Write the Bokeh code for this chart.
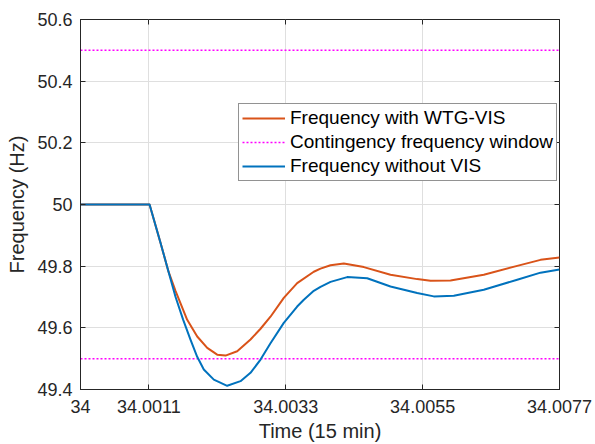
from bokeh.plotting import figure
from bokeh.models import (Range1d, FixedTicker, NumeralTickFormatter, LinearAxis,
                          Legend, LegendItem, CustomLabelingPolicy)
from bokeh.embed import file_html
from bokeh.resources import INLINE

# ---- data ----
x_ticks = [34.0, 34.0011, 34.0033, 34.0055, 34.0077]
y_ticks = [49.4, 49.6, 49.8, 50.0, 50.2, 50.4, 50.6]

t_vis = [34.0, 34.00111, 34.001286, 34.001415, 34.001527, 34.001715, 34.001876,
         34.002037, 34.002197, 34.002331, 34.002519, 34.002733, 34.002894,
         34.003054, 34.003268, 34.003483, 34.00375, 34.003858, 34.004019,
         34.004233, 34.004555, 34.004983, 34.005412, 34.005626, 34.005948,
         34.006483, 34.00702, 34.007395, 34.0077]
f_vis = [50.0, 50.0, 49.876, 49.782, 49.720, 49.626, 49.572,
         49.535, 49.513, 49.510, 49.524, 49.562, 49.597,
         49.636, 49.697, 49.745, 49.782, 49.792, 49.803,
         49.809, 49.797, 49.772, 49.758, 49.753, 49.7535,
         49.772, 49.801, 49.8205, 49.828]

t_novis = [34.0, 34.00111, 34.001286, 34.001415, 34.001527, 34.001651, 34.001768,
           34.001876, 34.001982, 34.002143, 34.002358, 34.002572, 34.002733,
           34.002894, 34.003054, 34.003268, 34.003483, 34.00359, 34.00375,
           34.003858, 34.004019, 34.004287, 34.004609, 34.004983, 34.005412,
           34.005679, 34.006001, 34.006483, 34.00702, 34.007395, 34.0077]
f_novis = [50.0, 50.0, 49.876, 49.782, 49.701, 49.626, 49.562,
           49.506, 49.465, 49.432, 49.412, 49.427, 49.454,
           49.497, 49.550, 49.616, 49.669, 49.691, 49.720,
           49.733, 49.749, 49.7645, 49.761, 49.734, 49.713,
           49.702, 49.704, 49.7235, 49.756, 49.779, 49.789]

window_levels = [50.5, 49.5]
x_range = [34.0, 34.0077]
y_range = [49.4, 50.6]

FONT = "Liberation Sans"
TXT = "#262626"

p = figure(width=595, height=444, output_backend="svg", toolbar_location=None,
           x_range=Range1d(*x_range), y_range=Range1d(*y_range),
           min_border_left=80, min_border_right=36, min_border_top=19,
           min_border_bottom=54, background_fill_color="white",
           border_fill_color="white")

p.outline_line_color = TXT
p.outline_line_width = 1
p.outline_line_alpha = 1

for ax in (p.xaxis[0], p.yaxis[0]):
    ax.major_tick_in = 5
    ax.major_tick_out = 0
    ax.minor_tick_in = 0
    ax.minor_tick_out = 0
    ax.axis_line_color = TXT
    ax.major_tick_line_color = TXT
    ax.major_label_text_font = FONT
    ax.major_label_text_font_size = "18px"
    ax.major_label_text_color = TXT
    ax.axis_label_text_font = FONT
    ax.axis_label_text_font_size = "20px"
    ax.axis_label_text_font_style = "normal"
    ax.axis_label_text_color = TXT

p.xaxis[0].ticker = FixedTicker(ticks=x_ticks)
p.yaxis[0].ticker = FixedTicker(ticks=y_ticks)
p.xaxis[0].formatter = NumeralTickFormatter(format="0.[0000]")
p.yaxis[0].formatter = NumeralTickFormatter(format="0.[0]")
p.xaxis[0].axis_label = "Time (15 min)"
p.yaxis[0].axis_label = "Frequency (Hz)"
p.xaxis[0].major_label_standoff = 10
p.xaxis[0].axis_label_standoff = 4
p.yaxis[0].major_label_standoff = 8
p.yaxis[0].axis_label_standoff = 6

# mirrored ticks on top and right (labels suppressed)
no_labels = CustomLabelingPolicy(code="return new Set()")
top = LinearAxis(ticker=FixedTicker(ticks=x_ticks), major_label_policy=no_labels,
                 major_label_standoff=0, major_tick_in=5, major_tick_out=0,
                 minor_tick_in=0, minor_tick_out=0, axis_line_color=None,
                 major_tick_line_color=TXT)
right = LinearAxis(ticker=FixedTicker(ticks=y_ticks), major_label_policy=no_labels,
                   major_label_standoff=0, major_tick_in=5, major_tick_out=0,
                   minor_tick_in=0, minor_tick_out=0, axis_line_color=None,
                   major_tick_line_color=TXT)
p.add_layout(top, "above")
p.add_layout(right, "right")

p.xgrid.ticker = FixedTicker(ticks=x_ticks)
p.ygrid.ticker = FixedTicker(ticks=y_ticks)
for g in (p.xgrid[0], p.ygrid[0]):
    g.grid_line_color = "#dfdfdf"
    g.grid_line_width = 1

r_vis = p.line(t_vis, f_vis, line_color="#D95319", line_width=2,
               line_join="round")
r_win = None
for lvl in window_levels:
    r = p.line(x_range, [lvl, lvl], line_color="#FF00FF", line_width=1.5,
               line_dash="2 2")
    if r_win is None:
        r_win = r
r_novis = p.line(t_novis, f_novis, line_color="#0072BD", line_width=2,
                 line_join="round")

legend = Legend(items=[
    LegendItem(label="Frequency with WTG-VIS", renderers=[r_vis]),
    LegendItem(label="Contingency frequency window", renderers=[r_win]),
    LegendItem(label="Frequency without VIS", renderers=[r_novis]),
], location=(158, 208))
legend.label_text_font = FONT
legend.label_text_font_size = "19px"
legend.label_text_color = "black"
legend.glyph_width = 43
legend.glyph_height = 20
legend.label_height = 20
legend.spacing = 2
legend.padding = 3
legend.margin = 0
legend.label_standoff = 5
legend.border_line_color = TXT
legend.border_line_width = 1
legend.background_fill_color = "white"
legend.background_fill_alpha = 1
p.add_layout(legend, "center")

open("out.html", "w").write(file_html(p, INLINE))
